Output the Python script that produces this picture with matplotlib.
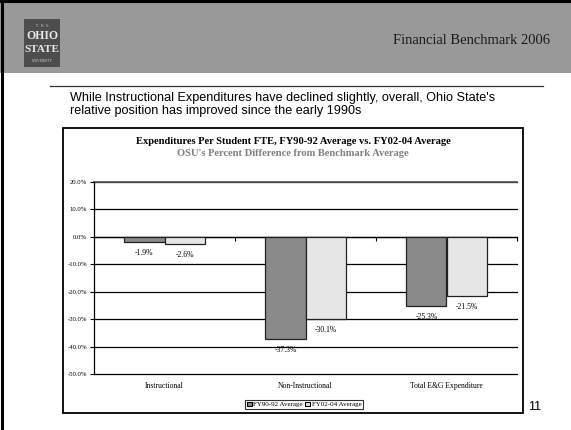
"""Expenditures per student FTE chart, redrawn as a slide."""

import matplotlib
matplotlib.use("Agg")
import matplotlib.pyplot as plt
from matplotlib.patches import Rectangle, Patch
from matplotlib.lines import Line2D

categories = ["Instructional", "Non-Instructional", "Total E&G Expenditure"]
series_names = ["FY90-92 Average", "FY02-04 Average"]
fy90_92 = [-1.9, -37.3, -25.3]
fy02_04 = [-2.6, -30.1, -21.5]
y_ticks = [20, 10, 0, -10, -20, -30, -40, -50]

W, H = 571, 430
serif = "Liberation Serif"
sans = "Liberation Sans"


def fx(px):
    return px / W


def fy(py):
    return 1 - py / H


fig = plt.figure(figsize=(W / 100, H / 100), dpi=100)
fig.patch.set_facecolor("white")

# slide header band and borders
fig.add_artist(Rectangle((0, fy(73)), 1, (73 - 2) / H, transform=fig.transFigure,
                         facecolor="#999999", edgecolor="none"))
fig.add_artist(Line2D([fx(2), fx(2)], [0, 1], color="black", lw=2.2))
fig.add_artist(Line2D([0, 1], [fy(1), fy(1)], color="black", lw=2.2))

# logo
fig.add_artist(Rectangle((fx(24), fy(67)), 36 / W, 48 / H, transform=fig.transFigure,
                         facecolor="#4d4d4d", edgecolor="none"))
fig.text(fx(42), fy(26), "T · H · E", color="#d8d8d8", fontsize=2.5,
         ha="center", va="center", family=serif)
fig.text(fx(42), fy(36), "OHIO", color="#e8e8e8", fontsize=8.5, ha="center",
         va="center", family=serif, weight="bold")
fig.text(fx(42), fy(50), "STATE", color="#e8e8e8", fontsize=8, ha="center",
         va="center", family=serif, weight="bold")
fig.text(fx(42), fy(61), "UNIVERSITY", color="#d8d8d8", fontsize=2.5,
         ha="center", va="center", family=serif)

fig.text(fx(550), fy(40), "Financial Benchmark 2006", fontsize=10.5,
         family=serif, ha="right", va="center", color="#1a1a1a")

fig.add_artist(Line2D([fx(50), fx(543)], [fy(86), fy(86)], color="#333333", lw=0.9))
fig.text(fx(70), fy(98), "While Instructional Expenditures have declined slightly, "
         "overall, Ohio State's", fontsize=9.1, family=sans, va="center")
fig.text(fx(70), fy(111), "relative position has improved since the early 1990s",
         fontsize=9.1, family=sans, va="center")

# chart box
fig.add_artist(Rectangle((fx(63), fy(413)), (523 - 63) / W, (413 - 128) / H,
                         transform=fig.transFigure, facecolor="none",
                         edgecolor="black", lw=1.3))
fig.text(fx(293), fy(142), "Expenditures Per Student FTE, FY90-92 Average vs. "
         "FY02-04 Average", fontsize=7.6, family=serif, weight="bold",
         ha="center", va="center")
fig.text(fx(293), fy(154), "OSU's Percent Difference from Benchmark Average",
         fontsize=7.6, family=serif, weight="bold", color="#808080",
         ha="center", va="center")

ax = fig.add_axes([fx(94), fy(374), (517 - 94) / W, (374 - 182) / H])
ax.set_facecolor("none")

width = 0.285
xs = list(range(len(categories)))
colors = ["#8a8a8a", "#e6e6e6"]
for offset, vals, col, name in zip([-width / 2, width / 2], [fy90_92, fy02_04],
                                   colors, series_names):
    pos = [x + offset for x in xs]
    ax.bar(pos, vals, width, color=col, edgecolor="#222222", lw=0.9, zorder=3,
           label=name)
    for p, v in zip(pos, vals):
        ax.annotate(f"{v:.1f}%", (p, v), xytext=(0, -5), textcoords="offset points",
                    ha="center", va="top", fontsize=5.5, family=serif, zorder=4)

ax.set_ylim(-50, 20)
ax.set_xlim(-0.5, len(categories) - 0.5)
ax.set_yticks(y_ticks)
ax.set_yticklabels([f"{t:.1f}%" for t in y_ticks], fontsize=4.8, family=serif)
ax.tick_params(axis="y", length=3, width=0.8, pad=2)
for t in y_ticks:
    ax.axhline(t, color="black", lw=0.9, zorder=1, clip_on=False)
ax.axhline(20, color="#555555", lw=1.2, zorder=1, clip_on=False)

# category axis crosses at zero
ax.spines["bottom"].set_position(("data", 0))
ax.spines["bottom"].set_linewidth(0.9)
ax.set_xticks([x + 0.5 for x in xs])
ax.set_xticklabels([])
ax.tick_params(axis="x", length=3, width=0.8, direction="out")
for s in ["top", "right"]:
    ax.spines[s].set_visible(False)
ax.spines["left"].set_linewidth(0.9)

for x, c in zip(xs, categories):
    ax.text(x, -53, c, ha="center", va="top", fontsize=5.5, family=serif)

handles = [Patch(facecolor=c, edgecolor="black", lw=0.8) for c in colors]
leg = fig.legend(handles, series_names, loc="center", bbox_to_anchor=(fx(304), fy(404.5)),
                 ncol=2, frameon=True, fancybox=False, handlelength=0.7,
                 handleheight=0.7, handletextpad=0.2, columnspacing=0.4,
                 borderpad=0.25, borderaxespad=0, prop={"family": serif, "size": 5})
leg.get_frame().set_edgecolor("black")
leg.get_frame().set_linewidth(0.8)

fig.text(fx(535), fy(407), "11", fontsize=9, family=sans, ha="center", va="center")

fig.savefig("out.png", dpi=100)
